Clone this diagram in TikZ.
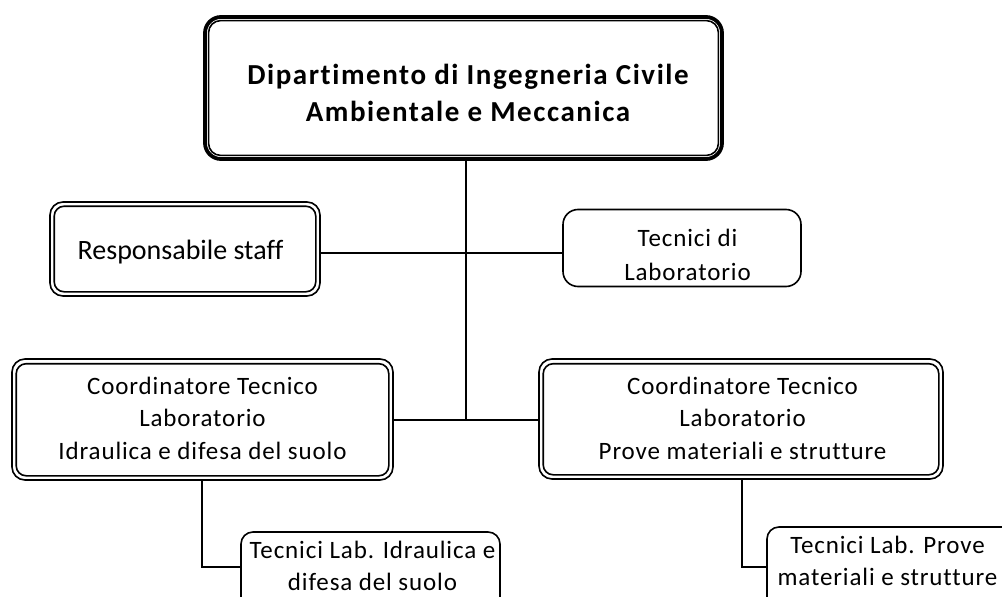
\documentclass[tikz,border=0pt]{standalone}
\usepackage{fontspec}
\setmainfont[Ligatures=CommonOff]{Carlito}
\newfontfamily\widefont[Ligatures=CommonOff,LetterSpace=3.5]{Carlito}
\newfontfamily\widebold[Ligatures=CommonOff,LetterSpace=5.4]{Carlito Bold}
\begin{document}
\begin{tikzpicture}[x=1pt,y=-1pt,
  frame/.style={draw=black, rounded corners=#1, inner sep=0pt, align=center},
  inner/.style={draw=black, line width=1.6pt, rounded corners=#1},
  conn/.style={draw=black, line width=1.6pt},
  txt/.style={font=\widefont\fontsize{25}{32.5}\selectfont, align=center, inner sep=0pt}]
\useasboundingbox (0,0) rectangle (1002,597);
\clip (0,0) rectangle (1002,597);
% top box
\node[frame=16pt, line width=3.8pt, minimum width=517pt, minimum height=142pt] (top) at (463.5,88) {};
\draw[inner=12pt] ([shift={(5.5,5.5)}]top.north west) rectangle ([shift={(-5.5,-5.5)}]top.south east);
\node[txt, font=\widebold\fontsize{29}{37}\selectfont] (toptxt) at (468,93) {Dipartimento di Ingegneria Civile\\Ambientale e Meccanica};
% staff
\node[frame=13pt, line width=1.6pt, minimum width=270pt, minimum height=94pt] (staff) at (185,249) {};
\draw[inner=10pt] ([shift={(5,5)}]staff.north west) rectangle ([shift={(-5,-5)}]staff.south east);
\node[txt, font=\fontsize{28}{32}\selectfont] (stafftxt) at (180.5,252) {Responsabile staff};
% tecnici
\node[frame=15pt, line width=1.6pt, minimum width=238pt, minimum height=77pt] (tec) at (682,248) {};
\node[txt, font=\widefont\fontsize{25}{34}\selectfont] (tectxt) at (687.5,255) {Tecnici di\\Laboratorio};
% coordinators
\node[frame=13pt, line width=1.6pt, minimum width=381pt, minimum height=121pt] (cl) at (202.5,419.5) {};
\draw[inner=10pt] ([shift={(5,5.5)}]cl.north west) rectangle ([shift={(-5,-5)}]cl.south east);
\node[txt] (cltxt) at (202.5,418) {Coordinatore Tecnico\\Laboratorio\\Idraulica e difesa del suolo};
\node[frame=13pt, line width=1.6pt, minimum width=404pt, minimum height=120pt] (cr) at (741,419) {};
\draw[inner=10pt] ([shift={(5,5.5)}]cr.north west) rectangle ([shift={(-5,-5)}]cr.south east);
\node[txt] (crtxt) at (742.5,418) {Coordinatore Tecnico\\Laboratorio\\Prove materiali e strutture};
% sub boxes
\node[frame=12pt, line width=1.6pt, minimum width=259pt, minimum height=80pt] (sl) at (370.5,572) {};
\node[txt] (sltxt) at (372.5,566) {Tecnici Lab. Idraulica e\\difesa del suolo};
\node[frame=12pt, line width=1.6pt, minimum width=250pt, minimum height=84pt] (sr) at (892,569) {};
\node[txt] (srtxt) at (887.5,561) {Tecnici Lab. Prove\\materiali e strutture};
% connectors
\coordinate (j1) at (466,253);
\coordinate (j2) at (466,420);
\draw[conn] (top.south -| j1) -- (j2);
\draw[conn] (staff.east |- j1) -- (j1) -- (tec.west |- j1);
\draw[conn] (cl.east |- j2) -- (cr.west |- j2);
\draw[conn] (cl.south -| 202,0) |- (sl.west |- 0,567);
\draw[conn] (cr.south -| 742,0) |- (sr.west |- 0,567);
\end{tikzpicture}
\end{document}
